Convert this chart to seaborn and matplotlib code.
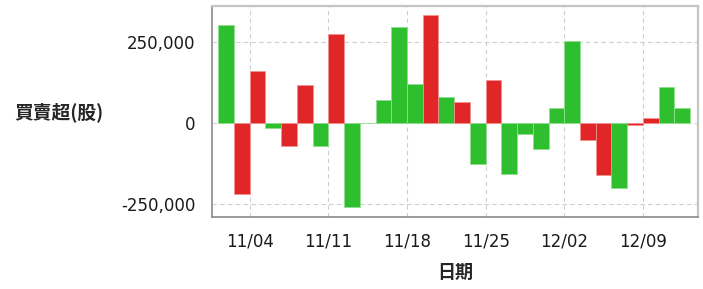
import numpy as np
import pandas as pd
import matplotlib
matplotlib.use("Agg")
import matplotlib.pyplot as plt
import seaborn as sns
from matplotlib.ticker import FuncFormatter

# trading days (mm/dd), net buy/sell in shares, bar colour
dates = ["10/31", "11/01",
         "11/04", "11/05", "11/06", "11/07", "11/08",
         "11/11", "11/12", "11/13", "11/14", "11/15",
         "11/18", "11/19", "11/20", "11/21", "11/22",
         "11/25", "11/26", "11/27", "11/28", "11/29",
         "12/02", "12/03", "12/04", "12/05", "12/06",
         "12/09", "12/10", "12/11"]
net = [303000, -219000,
       160000, -17000, -72000, 119000, -72000,
       274000, -260000, 0, 70000, 297000,
       122000, 334000, 81000, 65000, -126000,
       132000, -157000, -35000, -82000, 46000,
       253000, -52000, -162000, -200000, -7000,
       15000, 110000, 47000]
side = ["g", "r",
        "r", "g", "r", "r", "g",
        "r", "g", "g", "g", "g",
        "g", "r", "g", "r", "g",
        "r", "g", "g", "g", "g",
        "g", "r", "r", "g", "r",
        "r", "g", "g"]
tick_days = ["11/04", "11/11", "11/18", "11/25", "12/02", "12/09"]

green = "#2ebe2e"
red = "#e02626"

df = pd.DataFrame({"date": dates, "net": net, "side": side})

sns.set_style("white")
plt.rcParams["font.family"] = ["DejaVu Sans", "Noto Sans CJK TC"]

fig = plt.figure(figsize=(7.03, 2.89), dpi=100)
ax = fig.add_axes([212 / 703, 72 / 289, 486 / 703, 211 / 289])

sns.barplot(data=df, x="date", y="net", hue="side", palette={"g": green, "r": red},
            dodge=False, width=1.0, saturation=1, legend=False, ax=ax, zorder=3)
for patch in ax.patches:
    fc = patch.get_facecolor()
    patch.set_edgecolor("#8fe08f" if fc[1] > fc[0] else "#f49090")
    patch.set_linewidth(0.6)

# ticks sit on the left edge of each Monday bar
pos = [dates.index(d) - 0.5 for d in tick_days]
ax.set_xticks(pos)
ax.set_xticklabels(tick_days)
ax.set_xlim(-0.9, 30.0)
ax.set_ylim(-291000, 362000)
ax.set_yticks([-250000, 0, 250000])
ax.yaxis.set_major_formatter(FuncFormatter(lambda v, p: f"{int(v):,}"))

ax.grid(True, color="#cfcfcf", linestyle=(0, (4, 3)), linewidth=0.8, zorder=0)
ax.set_axisbelow(True)

for s in ["left", "bottom"]:
    ax.spines[s].set_color("#8a8a8a")
    ax.spines[s].set_linewidth(1.2)
for s in ["top", "right"]:
    ax.spines[s].set_color("#c4c4c4")
    ax.spines[s].set_linewidth(1.6)

ax.tick_params(axis="both", direction="out", length=4, width=0.8, color="#8a8a8a",
               labelsize=12, labelcolor="#1a1a1a")
ax.tick_params(axis="y", pad=8)
ax.tick_params(axis="x", pad=7)

ax.set_xlabel("日期", fontsize=13, fontweight="bold", family=["Noto Sans CJK TC"],
              labelpad=9)
ax.set_ylabel("買賣超(股)", fontsize=13.5, fontweight="bold", family=["Noto Sans CJK TC"],
              rotation=0, ha="center", va="center")
ax.yaxis.set_label_coords(-0.315, 0.495)

fig.savefig("out.png", dpi=100)
